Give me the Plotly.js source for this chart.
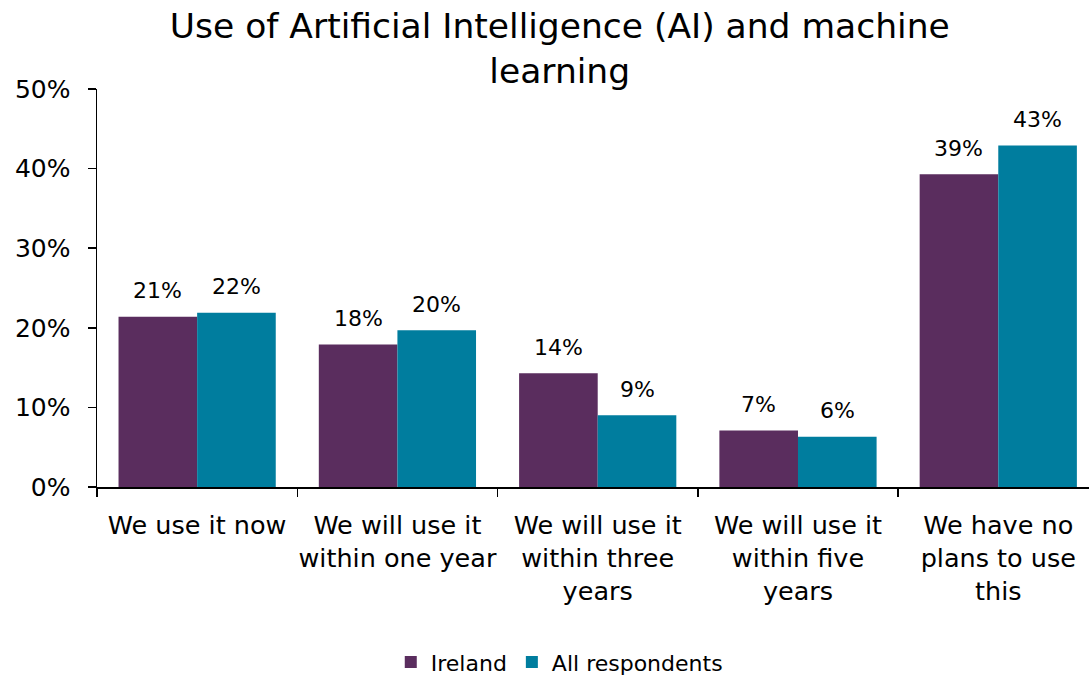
<!DOCTYPE html>
<html>
<head>
<meta charset="utf-8">
<script src="https://cdn.plot.ly/plotly-3.0.1.min.js"></script>
<style>html,body{margin:0;padding:0;background:#fff}#chart{width:1089px;height:675px}</style>
</head>
<body>
<div id="chart"></div>
<script>
const categories = [
  "We use it now",
  "We will use it<br>within one year",
  "We will use it<br>within three<br>years",
  "We will use it<br>within five<br>years",
  "We have no<br>plans to use<br>this"
];
const ireland = [21.4, 17.9, 14.3, 7.1, 39.3];
const allRespondents = [21.9, 19.7, 9.0, 6.3, 42.9];
const yTickVals = [0, 10, 20, 30, 40, 50];
const yTickText = ["0%", "10%", "20%", "30%", "40%", "50%"];
const seriesNames = ["Ireland", "All respondents"];
const seriesColors = ["#5A2D5E", "#007D9E"];

const FONT = "'DejaVu Sans', sans-serif";

const traces = [ireland, allRespondents].map((vals, s) => ({
  type: "bar", name: seriesNames[s], x: categories, y: vals,
  marker: {color: seriesColors[s]},
  hoverinfo: "none"
}));

// value labels above each bar, built from the data arrays
const annotations = [];
[ireland, allRespondents].forEach((vals, s) => {
  vals.forEach((v, i) => {
    annotations.push({
      x: categories[i], y: v, xref: "x", yref: "y",
      text: Math.round(v) + "%",
      showarrow: false, xanchor: "center", yanchor: "middle",
      xshift: s === 0 ? -39.3 : 39.3, yshift: 26,
      font: {family: FONT, size: 22, color: "#000"}
    });
  });
});

const layout = {
  width: 1089, height: 675,
  margin: {l: 97, r: 0, t: 89, b: 188, autoexpand: false},
  paper_bgcolor: "#fff", plot_bgcolor: "#fff",
  font: {family: FONT, color: "#000"},
  title: {
    text: "Use of Artificial Intelligence (AI) and machine<br>learning",
    font: {family: FONT, size: 34.5, color: "#000"},
    xref: "container", yref: "container",
    x: 0.514, xanchor: "center", y: 0.944, yanchor: "top"
  },
  barmode: "group", bargap: 0.215, bargroupgap: 0,
  xaxis: {
    type: "category",
    range: [-0.5, 4.453],
    tickangle: 0, automargin: false,
    tickson: "boundaries", ticks: "outside", ticklen: 8, tickcolor: "#000", tickwidth: 1.5,
    showline: true, linecolor: "#000", linewidth: 1.5,
    showgrid: false, zeroline: false,
    tickfont: {family: FONT, size: 25.5, color: "#000"},
    ticklabelstandoff: 15,
    fixedrange: true
  },
  yaxis: {
    range: [0, 50], automargin: false,
    tickmode: "array", tickvals: yTickVals, ticktext: yTickText,
    ticks: "outside", ticklen: 8, tickcolor: "#000", tickwidth: 1.5,
    showline: true, linecolor: "#000", linewidth: 1.5,
    showgrid: false, zeroline: false,
    tickfont: {family: FONT, size: 25, color: "#000"},
    ticklabelstandoff: 12,
    fixedrange: true
  },
  annotations: annotations,
  showlegend: true,
  legend: {
    orientation: "h", x: 0.466, xanchor: "center", y: -0.44, yanchor: "middle",
    font: {family: FONT, size: 22, color: "#000"},
    traceorder: "normal"
  }
};

Plotly.newPlot("chart", traces, layout, {displayModeBar: false, staticPlot: true});
</script>
</body>
</html>
